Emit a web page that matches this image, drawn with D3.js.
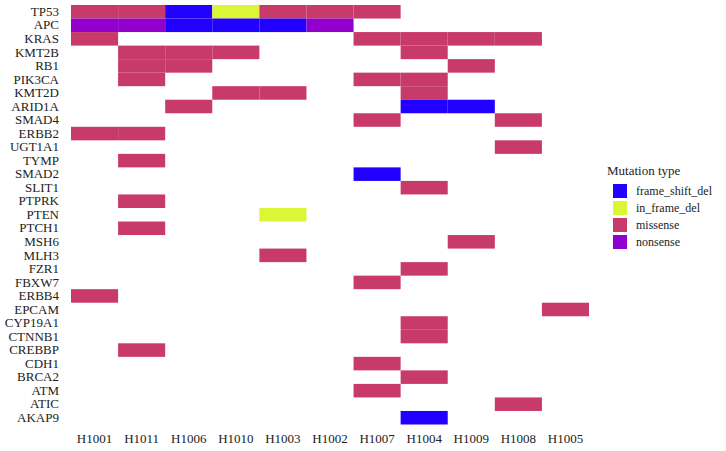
<!DOCTYPE html>
<html><head><meta charset="utf-8">
<script src="https://cdn.jsdelivr.net/npm/d3@7"></script>
<style>body{margin:0;background:#fff}svg{display:block}</style>
</head><body><svg id="c" width="726" height="451" font-family="'Liberation Serif', 'Times New Roman', serif"></svg>
<script>
const samples = ["H1001","H1011","H1006","H1010","H1003","H1002","H1007","H1004","H1009","H1008","H1005"];
const genes = ["TP53","APC","KRAS","KMT2B","RB1","PIK3CA","KMT2D","ARID1A","SMAD4","ERBB2","UGT1A1","TYMP","SMAD2","SLIT1","PTPRK","PTEN","PTCH1","MSH6","MLH3","FZR1","FBXW7","ERBB4","EPCAM","CYP19A1","CTNNB1","CREBBP","CDH1","BRCA2","ATM","ATIC","AKAP9"];
const mutationTypes = ["frame_shift_del","in_frame_del","missense","nonsense"];
const typeColors = ["#2200ff","#dbf537","#c83a69","#9100cc"];
// [gene, sample, type]
const mutations = [
  ["TP53","H1001","missense"],["TP53","H1011","missense"],["TP53","H1006","frame_shift_del"],["TP53","H1010","in_frame_del"],["TP53","H1003","missense"],["TP53","H1002","missense"],["TP53","H1007","missense"],
  ["APC","H1001","nonsense"],["APC","H1011","nonsense"],["APC","H1006","frame_shift_del"],["APC","H1010","frame_shift_del"],["APC","H1003","frame_shift_del"],["APC","H1002","nonsense"],
  ["KRAS","H1001","missense"],["KRAS","H1007","missense"],["KRAS","H1004","missense"],["KRAS","H1009","missense"],["KRAS","H1008","missense"],
  ["KMT2B","H1011","missense"],["KMT2B","H1006","missense"],["KMT2B","H1010","missense"],["KMT2B","H1004","missense"],
  ["RB1","H1011","missense"],["RB1","H1006","missense"],["RB1","H1009","missense"],
  ["PIK3CA","H1011","missense"],["PIK3CA","H1007","missense"],["PIK3CA","H1004","missense"],
  ["KMT2D","H1010","missense"],["KMT2D","H1003","missense"],["KMT2D","H1004","missense"],
  ["ARID1A","H1006","missense"],["ARID1A","H1004","frame_shift_del"],["ARID1A","H1009","frame_shift_del"],
  ["SMAD4","H1007","missense"],["SMAD4","H1008","missense"],
  ["ERBB2","H1001","missense"],["ERBB2","H1011","missense"],
  ["UGT1A1","H1008","missense"],
  ["TYMP","H1011","missense"],
  ["SMAD2","H1007","frame_shift_del"],
  ["SLIT1","H1004","missense"],
  ["PTPRK","H1011","missense"],
  ["PTEN","H1003","in_frame_del"],
  ["PTCH1","H1011","missense"],
  ["MSH6","H1009","missense"],
  ["MLH3","H1003","missense"],
  ["FZR1","H1004","missense"],
  ["FBXW7","H1007","missense"],
  ["ERBB4","H1001","missense"],
  ["EPCAM","H1005","missense"],
  ["CYP19A1","H1004","missense"],
  ["CTNNB1","H1004","missense"],
  ["CREBBP","H1011","missense"],
  ["CDH1","H1007","missense"],
  ["BRCA2","H1004","missense"],
  ["ATM","H1007","missense"],
  ["ATIC","H1008","missense"],
  ["AKAP9","H1004","frame_shift_del"]
];

const FONT = "'Liberation Serif', 'Times New Roman', serif";
const svg = d3.select("#c");
const x = d3.scaleBand().domain(samples).range([71, 589]);
const y = d3.scaleBand().domain(genes).range([5, 424.5]);
const color = d3.scaleOrdinal().domain(mutationTypes).range(typeColors);

svg.append("g").selectAll("rect").data(mutations).join("rect")
  .attr("x", d => x(d[1])).attr("y", d => y(d[0]))
  .attr("width", x.bandwidth()).attr("height", y.bandwidth())
  .attr("fill", d => color(d[2]));

const yAxis = svg.append("g").attr("transform","translate(71,0)")
  .call(d3.axisLeft(y).tickSize(0).tickPadding(12))
  .attr("font-family", FONT).attr("font-size", 13);
yAxis.select(".domain").remove();
yAxis.selectAll("text").attr("fill","#222");

const xAxis = svg.append("g").attr("transform","translate(0,426)")
  .call(d3.axisBottom(x).tickSize(0).tickPadding(8))
  .attr("font-family", FONT).attr("font-size", 13);
xAxis.select(".domain").remove();
xAxis.selectAll("text").attr("fill","#222");

const lg = svg.append("g").attr("transform","translate(607,0)").attr("font-family", FONT);
lg.append("text").attr("x",0).attr("y",175).attr("font-size",13).attr("fill","#222").text("Mutation type");
const li = lg.selectAll("g.li").data(mutationTypes).join("g").attr("class","li")
  .attr("transform",(d,i)=>`translate(6,${184 + i*17})`);
li.append("rect").attr("width",14).attr("height",14).attr("fill", d => color(d));
li.append("text").attr("x",23).attr("y",11).attr("font-size",12).attr("fill","#222").text(d=>d);
</script></body></html>
